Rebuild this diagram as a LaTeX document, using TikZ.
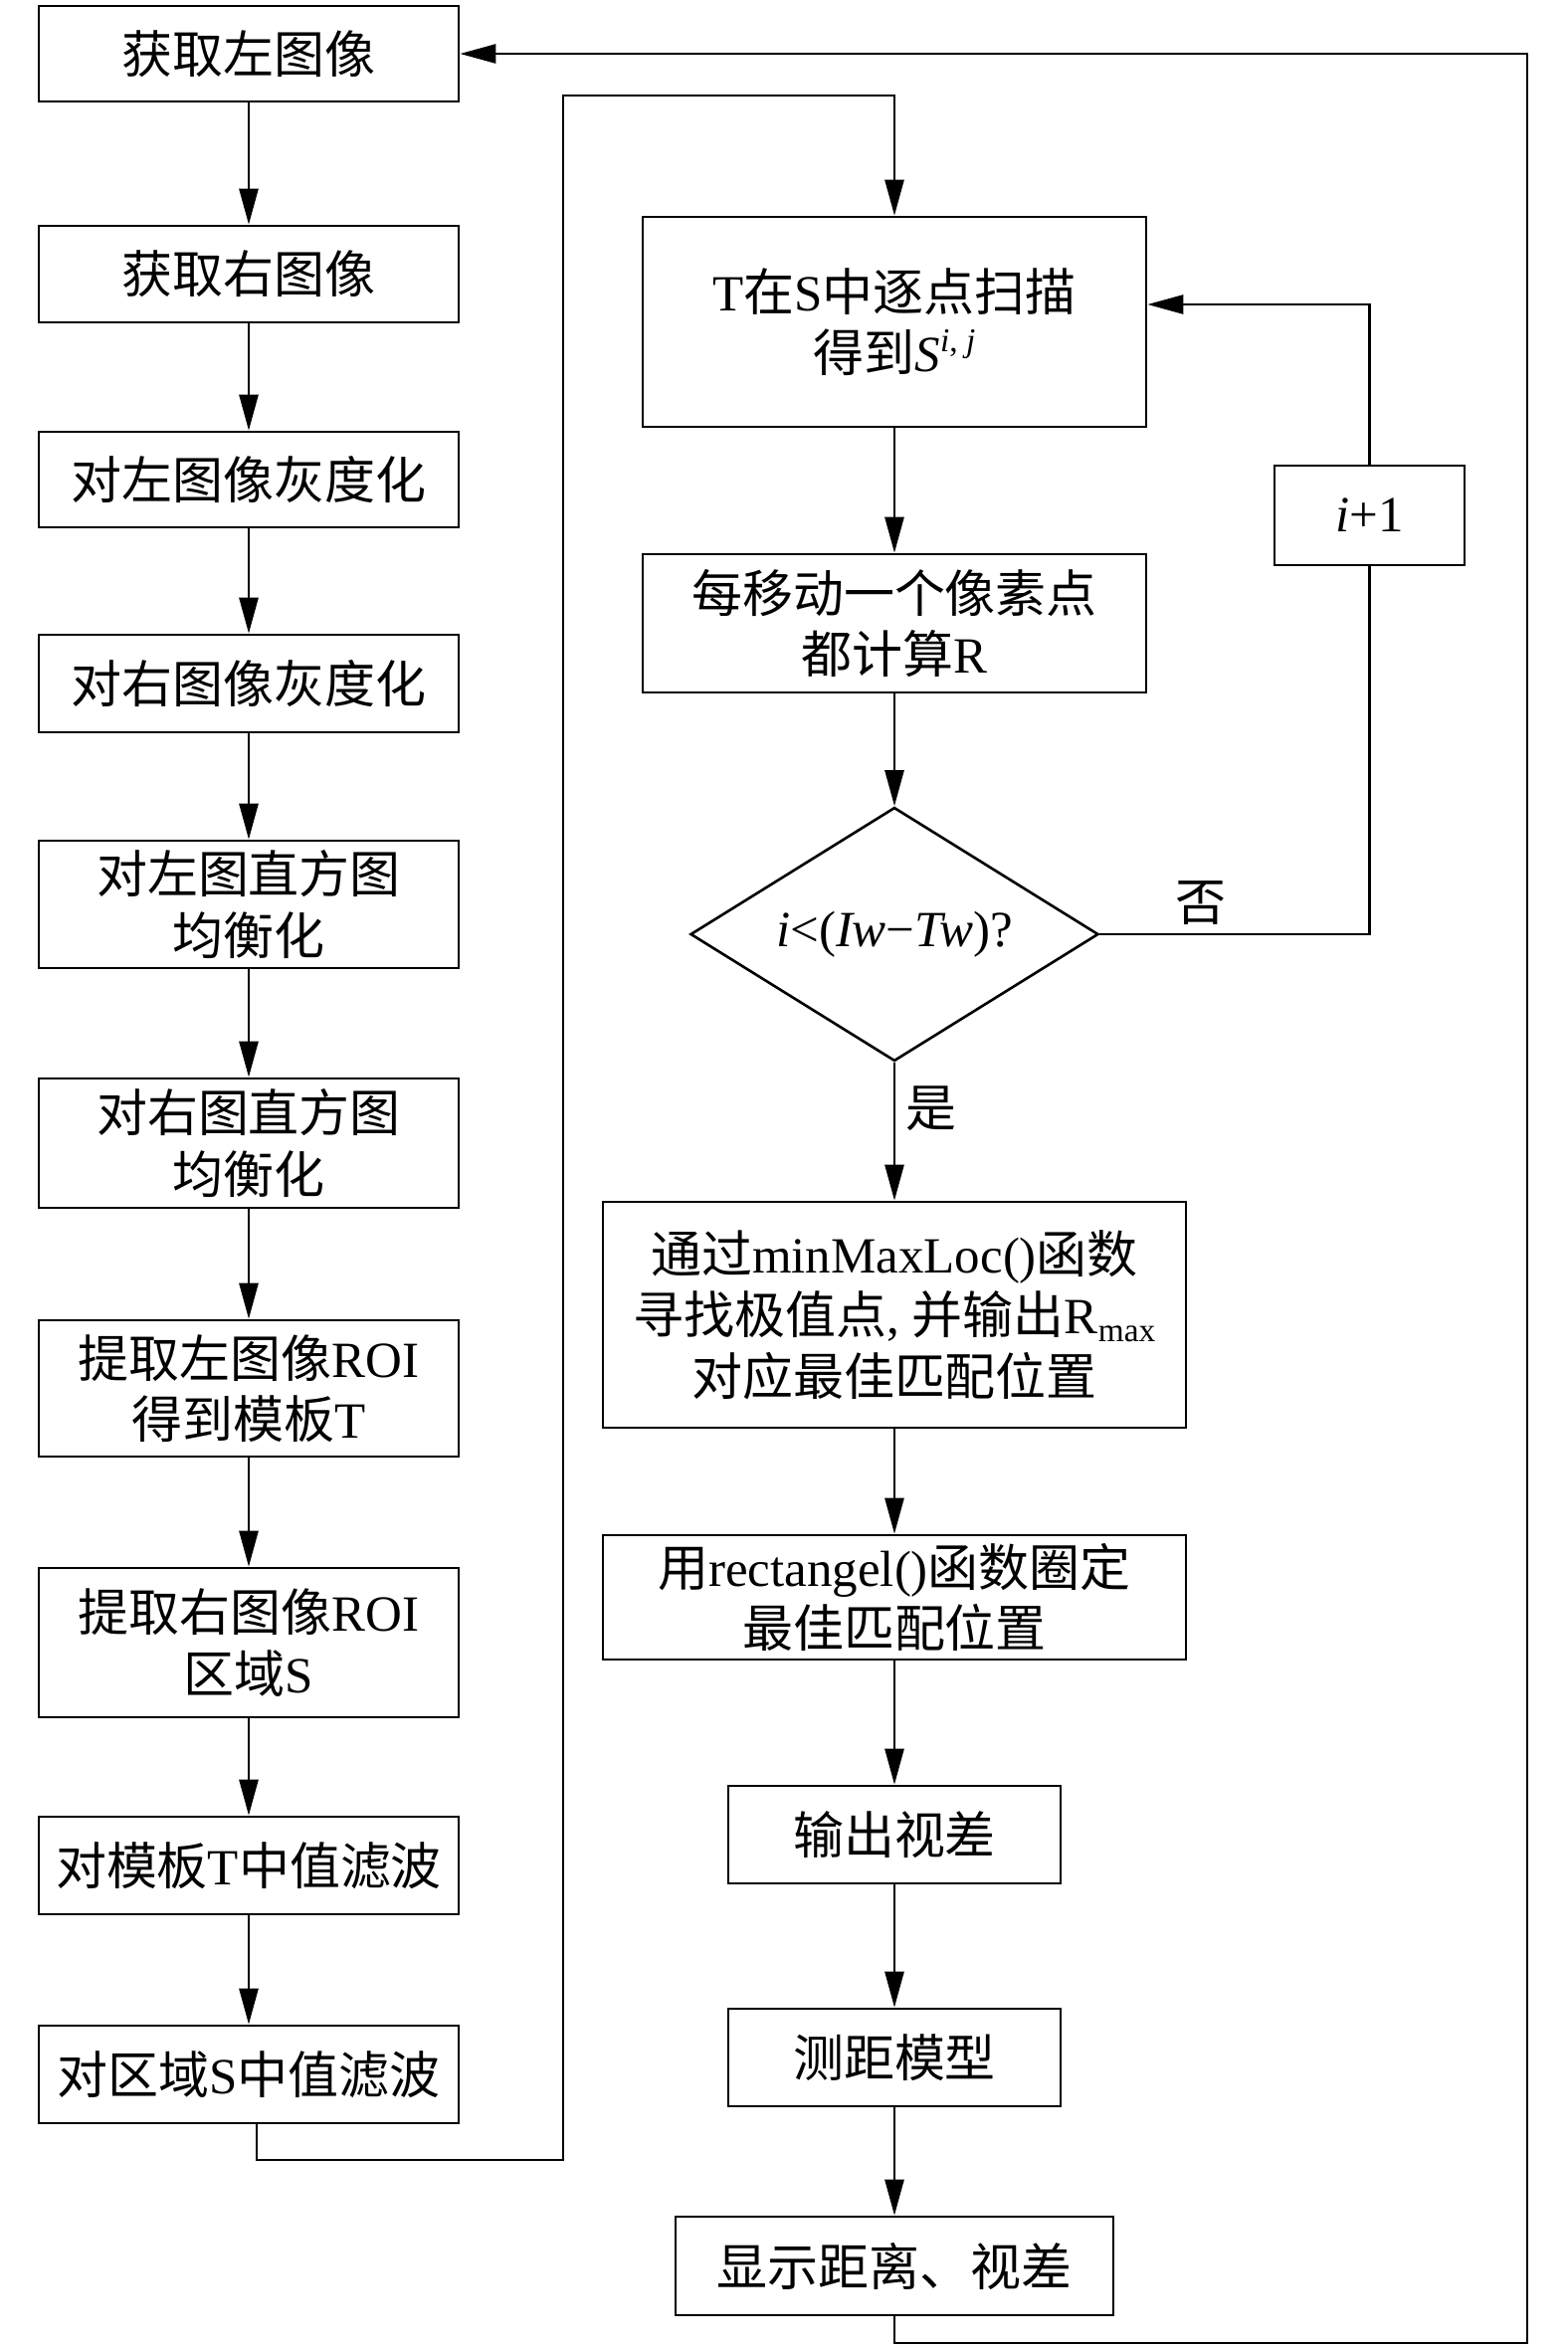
\documentclass[tikz,border=0pt]{standalone}
\usepackage{fontspec}
\setmainfont{Liberation Serif}
\newfontfamily\cjk{Noto Sans CJK SC}
\usetikzlibrary{arrows.meta,shapes.geometric,calc}
\newcommand\zh[1]{{\cjk #1}}
\newcommand\subsmall[1]{\raisebox{-0.35ex}{\fontsize{9.5}{9.5}\selectfont #1}}
\newcommand\supsmall[1]{\raisebox{0.85ex}{\fontsize{9.5}{9.5}\selectfont #1}}
\begin{document}
\begin{tikzpicture}[
  every node/.style={font=\fontsize{14.5}{17.5}\selectfont},
  pbox/.style={draw, rectangle, line width=0.75pt, align=center, inner sep=0pt},
  dbox/.style={draw, diamond, aspect=1.6, line width=0.75pt, align=center, inner sep=0pt},
  ln/.style={line width=0.75pt},
  arr/.style={line width=0.75pt, -{Triangle[length=3.6mm,width=1.9mm]}},
  lbl/.style={inner sep=0pt}
]
\useasboundingbox (0,0) rectangle (15.75,-23.6);

% left column
\node[pbox, minimum width=4.22cm, minimum height=0.96cm] (b1) at (2.50,-0.54) {\zh{获取左图像}};
\node[pbox, minimum width=4.22cm, minimum height=0.97cm] (b2) at (2.50,-2.755) {\zh{获取右图像}};
\node[pbox, minimum width=4.22cm, minimum height=0.96cm] (b3) at (2.50,-4.82) {\zh{对左图像灰度化}};
\node[pbox, minimum width=4.22cm, minimum height=0.98cm] (b4) at (2.50,-6.87) {\zh{对右图像灰度化}};
\node[pbox, minimum width=4.22cm, minimum height=1.28cm] (b5) at (2.50,-9.09) {\zh{对左图直方图}\\\zh{均衡化}};
\node[pbox, minimum width=4.22cm, minimum height=1.30cm] (b6) at (2.50,-11.49) {\zh{对右图直方图}\\\zh{均衡化}};
\node[pbox, minimum width=4.22cm, minimum height=1.37cm] (b7) at (2.50,-13.955) {\zh{提取左图像}ROI\\\zh{得到模板}T};
\node[pbox, minimum width=4.22cm, minimum height=1.50cm] (b8) at (2.50,-16.51) {\zh{提取右图像}ROI\\\zh{区域}S};
\node[pbox, minimum width=4.22cm, minimum height=0.98cm] (b9) at (2.50,-18.75) {\zh{对模板}T\zh{中值滤波}};
\node[pbox, minimum width=4.22cm, minimum height=0.98cm] (b10) at (2.50,-20.85) {\zh{对区域}S\zh{中值滤波}};

% right column
\node[pbox, minimum width=5.06cm, minimum height=2.11cm] (t) at (8.99,-3.235) {T\zh{在}S\zh{中逐点扫描}\\\zh{得到}\textit{S}\supsmall{\textit{i}, \textit{j}}};
\node[pbox, minimum width=5.06cm, minimum height=1.39cm] (r) at (8.99,-6.265) {\zh{每移动一个像素点}\\\zh{都计算}R};
\node[dbox, minimum width=4.10cm, minimum height=2.55cm] (d) at (8.99,-9.39) {\textit{i}<(\textit{Iw}−\textit{Tw})?};
\node[pbox, minimum width=1.91cm, minimum height=1.00cm] (inc) at (13.765,-5.18) {\textit{i}+1};
\node[pbox, minimum width=5.86cm, minimum height=2.27cm] (mm) at (8.99,-13.215) {\zh{通过}minMaxLoc()\zh{函数}\\\zh{寻找极值点}, \zh{并输出}R\subsmall{max}\\\zh{对应最佳匹配位置}};
\node[pbox, minimum width=5.86cm, minimum height=1.25cm] (rc) at (8.99,-16.055) {\zh{用}rectangel()\zh{函数圈定}\\\zh{最佳匹配位置}};
\node[pbox, minimum width=3.34cm, minimum height=0.98cm] (sc) at (8.99,-18.44) {\zh{输出视差}};
\node[pbox, minimum width=3.34cm, minimum height=0.98cm] (cj) at (8.99,-20.68) {\zh{测距模型}};
\node[pbox, minimum width=4.40cm, minimum height=0.99cm] (xs) at (8.99,-22.775) {\zh{显示距离、视差}};

% labels
\node[lbl] (no) at (12.07,-9.08) {\zh{否}};
\node[lbl] (yes) at (9.36,-11.14) {\zh{是}};

% left column arrows
\foreach \a/\b in {b1/b2,b2/b3,b3/b4,b4/b5,b5/b6,b6/b7,b7/b8,b8/b9,b9/b10}
  \draw[arr] (\a) -- (\b);

% link left to right
\coordinate (c1) at (5.66,-21.71);
\coordinate (c2) at (5.66,-0.96);
\draw[arr] ([xshift=0.08cm]b10.south) |- (c1) -- (c2) -| (t.north);

% right column arrows
\foreach \a/\b in {t/r,r/d,d/mm,mm/rc,rc/sc,sc/cj,cj/xs}
  \draw[arr] (\a) -- (\b);

% loop i+1
\coordinate (c3) at (13.765,-9.39);
\coordinate (c4) at (13.765,-3.06);
\draw[ln] (d.east) -- (c3) -- (inc.south);
\draw[arr] (inc.north) -- (c4) -- (c4 -| t.east);

% back to start
\coordinate (c5) at (15.35,-23.55);
\draw[arr] (xs.south) |- (c5) -- (c5 |- b1.east) -- (b1.east);
\end{tikzpicture}
\end{document}
